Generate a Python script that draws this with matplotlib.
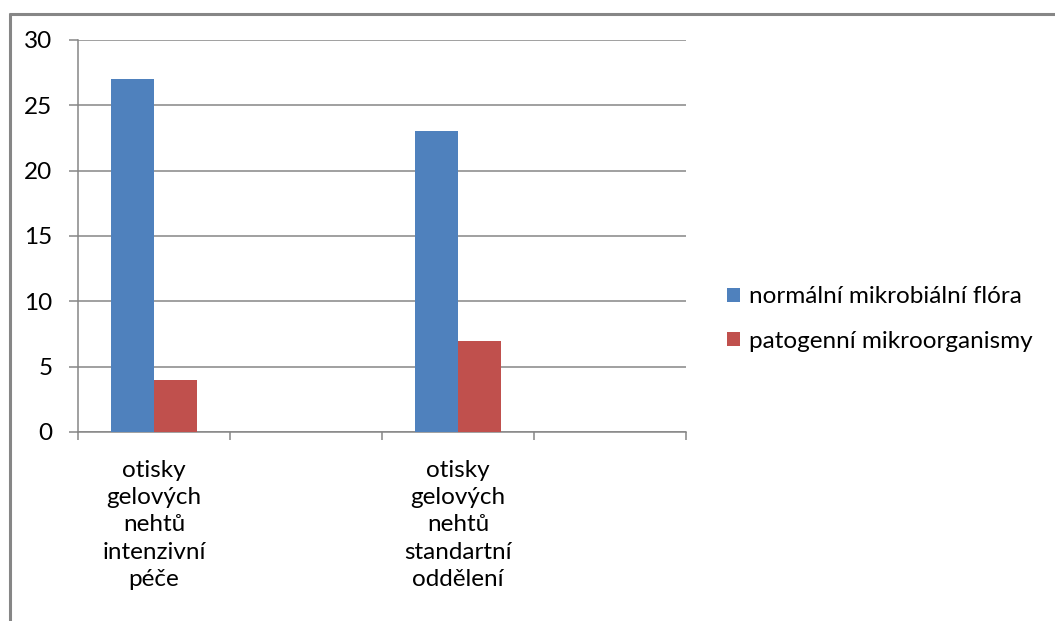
import numpy as np
import matplotlib.pyplot as plt
from matplotlib.ticker import FixedLocator, NullFormatter

plt.rcParams['font.family'] = ['Lato', 'DejaVu Sans']

# four category slots, only the first and third carry data
categories = ['otisky\ngelových\nnehtů\nintenzivní\npéče', '',
              'otisky\ngelových\nnehtů\nstandartní\noddělení', '']
normal_flora = [27, np.nan, 23, np.nan]
pathogens = [4, np.nan, 7, np.nan]
series_names = ['normální mikrobiální flóra', 'patogenní mikroorganismy']
y_ticks = [0, 5, 10, 15, 20, 25, 30]

W, H = 1055, 621
grey = '#868686'
fig = plt.figure(figsize=(W / 100, H / 100), dpi=100)

# chart area border (top and left edges), drawn in pixel units
bax = fig.add_axes([0, 0, 1, 1], zorder=5)
bax.set_xlim(0, W)
bax.set_ylim(H, 0)
bax.set_axis_off()
bax.patch.set_alpha(0)
bax.plot([9, W + 10], [13.5, 13.5], color=grey, linewidth=2.2,
         solid_capstyle='butt', clip_on=False)
bax.plot([10, 10], [12.5, H + 10], color=grey, linewidth=2.2,
         solid_capstyle='butt', clip_on=False)

ax = fig.add_axes([78 / W, (H - 432) / H, (686 - 78) / W, (432 - 40) / H])

fs = 17.5
x = np.arange(len(categories))
w = 1 / 3.5
ax.bar(x - w / 2, normal_flora, w, color='#4F81BD', label=series_names[0], zorder=3)
ax.bar(x + w / 2, pathogens, w, color='#C0504D', label=series_names[1], zorder=3)

ax.set_xlim(-0.5, len(categories) - 0.5)
ax.set_ylim(0, 30)
ax.set_yticks(y_ticks)
ax.yaxis.grid(True, color=grey, linewidth=1.1, zorder=0)

# tick marks on category boundaries, labels in the middle of each slot
ax.xaxis.set_major_locator(FixedLocator(np.arange(len(categories) + 1) - 0.5))
ax.xaxis.set_major_formatter(NullFormatter())
ax.xaxis.set_minor_locator(FixedLocator(x))
ax.set_xticklabels(categories, minor=True, fontsize=fs, linespacing=1.37)
ax.tick_params(axis='x', which='minor', length=0, pad=20)
ax.tick_params(axis='x', which='major', length=6, color=grey, width=1.1)
ax.tick_params(axis='y', length=6.5, color=grey, width=1.1, labelsize=fs, pad=12)

for side in ['top', 'right']:
    ax.spines[side].set_visible(False)
for side in ['left', 'bottom']:
    ax.spines[side].set_color(grey)
    ax.spines[side].set_linewidth(1.1)

ax.legend(loc='center left', bbox_to_anchor=(717 / W, (H - 319) / H),
          bbox_transform=fig.transFigure, frameon=False, fontsize=fs,
          handlelength=0.55, handleheight=0.55, handletextpad=0.35,
          labelspacing=0.95, borderaxespad=0)

fig.savefig('out.png', dpi=100)
